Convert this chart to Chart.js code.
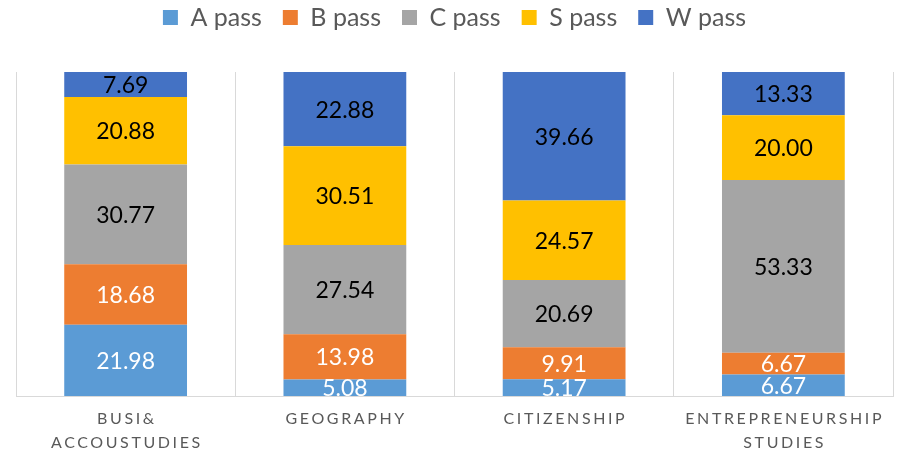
<!DOCTYPE html>
<html>
<head>
<meta charset="utf-8">
<script src="https://cdn.jsdelivr.net/npm/chart.js@4.4.1/dist/chart.umd.min.js"></script>
<style>
  body { margin: 0; background: #fff; }
  #wrap { width: 903px; height: 452px; }
</style>
</head>
<body>
<div id="wrap"><canvas id="passChart"></canvas></div>
<script>
// subjects (two-line labels as in the reference)
const subjects = [
  ['BUSI&', 'ACCOUSTUDIES'],
  ['GEOGRAPHY'],
  ['CITIZENSHIP'],
  ['ENTREPRENEURSHIP', 'STUDIES']
];
const aPass = [21.98, 5.08, 5.17, 6.67];
const bPass = [18.68, 13.98, 9.91, 6.67];
const cPass = [30.77, 27.54, 20.69, 53.33];
const sPass = [20.88, 30.51, 24.57, 20.00];
const wPass = [7.69, 22.88, 39.66, 13.33];

const grey = '#595959';
const fontName = 'Lato, "Open Sans", sans-serif';

// extra room between legend and bars
const legendGap = {
  id: 'legendGap',
  beforeInit(chart) {
    const fit = chart.legend.fit;
    chart.legend.fit = function () {
      fit.bind(chart.legend)();
      this.height += 32;
    };
  }
};

// value labels in the middle of each segment
const segmentLabels = {
  id: 'segmentLabels',
  afterDatasetsDraw(chart) {
    const ctx = chart.ctx;
    const area = chart.chartArea;
    ctx.save();
    ctx.beginPath();
    ctx.rect(area.left, area.top, area.right - area.left, area.bottom - area.top);
    ctx.clip();
    ctx.font = '23px ' + fontName;
    ctx.textAlign = 'center';
    ctx.textBaseline = 'middle';
    chart.data.datasets.forEach((ds, di) => {
      const meta = chart.getDatasetMeta(di);
      meta.data.forEach((bar, i) => {
        const p = bar.getProps(['x', 'y', 'base'], true);
        ctx.fillStyle = di < 2 ? '#ffffff' : '#000000';
        ctx.fillText(ds.data[i].toFixed(2), p.x, (p.y + p.base) / 2 + 1);
      });
    });
    ctx.restore();
  }
};

// spaced-out category names under the axis
const spacedTicks = {
  id: 'spacedTicks',
  afterDraw(chart) {
    const ctx = chart.ctx;
    const xs = chart.scales.x;
    const spacing = 2.6;
    ctx.save();
    ctx.font = '16px ' + fontName;
    ctx.fillStyle = grey;
    ctx.textAlign = 'center';
    ctx.textBaseline = 'middle';
    ctx.letterSpacing = spacing + 'px';
    subjects.forEach((lines, i) => {
      const x = xs.getPixelForTick(i) + spacing / 2;
      lines.forEach((line, j) => {
        ctx.fillText(line, x, chart.chartArea.bottom + 23 + j * 24);
      });
    });
    ctx.restore();
  }
};

new Chart(document.getElementById('passChart'), {
  type: 'bar',
  data: {
    labels: subjects,
    datasets: [
      { label: 'A pass', data: aPass, backgroundColor: '#5B9BD5' },
      { label: 'B pass', data: bPass, backgroundColor: '#ED7D31' },
      { label: 'C pass', data: cPass, backgroundColor: '#A5A5A5' },
      { label: 'S pass', data: sPass, backgroundColor: '#FFC000' },
      { label: 'W pass', data: wPass, backgroundColor: '#4472C4' }
    ]
  },
  options: {
    responsive: true,
    maintainAspectRatio: false,
    animation: false,
    categoryPercentage: 1,
    barPercentage: 0.56,
    layout: { padding: { left: 16, right: 10, top: -16, bottom: -8 } },
    plugins: {
      legend: {
        position: 'top',
        labels: {
          boxWidth: 15,
          boxHeight: 15,
          padding: 21,
          color: grey,
          font: { family: fontName, size: 25 }
        }
      },
      tooltip: { enabled: false }
    },
    scales: {
      x: {
        stacked: true,
        grid: { offset: true, color: '#D9D9D9', drawTicks: false },
        border: { color: '#D9D9D9' },
        ticks: {
          color: 'transparent',
          padding: 8,
          font: { family: fontName, size: 16, lineHeight: 1.5 }
        }
      },
      y: {
        stacked: true,
        display: false,
        min: 0,
        max: 100
      }
    }
  },
  plugins: [legendGap, segmentLabels, spacedTicks]
});
</script>
</body>
</html>
